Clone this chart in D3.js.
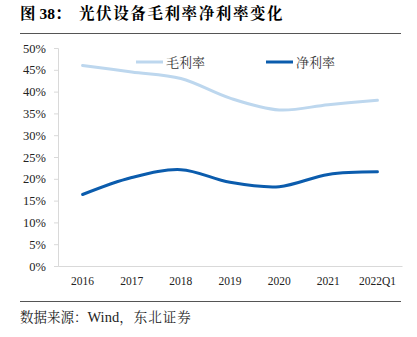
<!DOCTYPE html>
<html><head><meta charset="utf-8">
<script src="https://cdn.jsdelivr.net/npm/d3@7"></script>
<style>body{margin:0;background:#fff}svg{display:block}</style>
</head><body><svg id="c" width="417" height="337"></svg>
<script>
const categories = ["2016","2017","2018","2019","2020","2021","2022Q1"];
const grossMargin = [46.0, 44.5, 43.0, 38.5, 35.8, 37.0, 38.0];
const netMargin = [16.4, 20.3, 22.1, 19.2, 18.2, 21.0, 21.6];
const yTicks = [0,5,10,15,20,25,30,35,40,45,50];
const seriesNames = ["毛利率","净利率"];

const svg = d3.select("#c");
const serif = "'Liberation Serif','Times New Roman','Noto Serif CJK SC','Noto Sans CJK SC',serif";
const m = {l:58, r:402, t:48, b:266};
const x = d3.scaleBand().domain(categories).range([m.l, m.r]);
const y = d3.scaleLinear().domain([0,50]).range([m.b, m.t]);

// title
const t = svg.append("text").attr("x",20).attr("y",19).attr("font-family",serif)
  .attr("font-weight","bold").attr("font-size",15.5).attr("fill","#000");
t.append("tspan").text("图 38：");
t.append("tspan").attr("x",79).attr("letter-spacing",1.6).text("光伏设备毛利率净利率变化");
svg.append("line").attr("x1",20).attr("x2",401).attr("y1",33.5).attr("y2",33.5).attr("stroke","#555").attr("stroke-width",1.2);

// y axis
const ya = svg.append("g").attr("transform",`translate(${m.l},0)`)
  .call(d3.axisLeft(y).tickValues(yTicks).tickFormat(d=>d+"%").tickSize(4).tickPadding(8));
ya.select(".domain").attr("stroke","#d9d9d9");
ya.selectAll(".tick line").attr("stroke","#d9d9d9");
ya.selectAll("text").attr("font-family",serif).attr("font-size",12.5).attr("fill","#222");

// x axis
const xa = svg.append("g").attr("transform",`translate(0,${m.b})`)
  .call(d3.axisBottom(x).tickSize(0).tickPadding(11));
xa.select(".domain").attr("stroke","#d9d9d9");
xa.selectAll("text").attr("font-family",serif).attr("font-size",11.5).attr("fill","#222");

const line = d3.line().x((d,i)=>x(categories[i])+x.bandwidth()/2).y(d=>y(d)).curve(d3.curveCatmullRom.alpha(0.5));
const colors = ["#BDD7EE","#0B5CAD"];
[grossMargin, netMargin].forEach((s,k)=>{
  svg.append("path").datum(s).attr("d",line).attr("fill","none").attr("stroke",colors[k]).attr("stroke-width",3).attr("stroke-linecap","round");
});

// legend
const lx = [136, 266];
seriesNames.forEach((n,k)=>{
  svg.append("line").attr("x1",lx[k]).attr("x2",lx[k]+27).attr("y1",62).attr("y2",62).attr("stroke",colors[k]).attr("stroke-width",3);
  svg.append("text").attr("x",lx[k]+30).attr("y",66.5).attr("font-family","'Noto Serif CJK SC','Noto Sans CJK SC',serif")
    .attr("font-size",13).attr("fill","#333").text(n);
});

// bottom rule & source
svg.append("line").attr("x1",20).attr("x2",401).attr("y1",301.5).attr("y2",301.5).attr("stroke","#555").attr("stroke-width",1.2);
const s = svg.append("text").attr("x",20).attr("y",322).attr("font-family",serif).attr("font-size",13.5).attr("fill","#222");
s.append("tspan").text("数据来源：");
s.append("tspan").attr("font-size",14.5).text("Wind");
s.append("tspan").attr("letter-spacing",1).text("，东北证券");
</script></body></html>
